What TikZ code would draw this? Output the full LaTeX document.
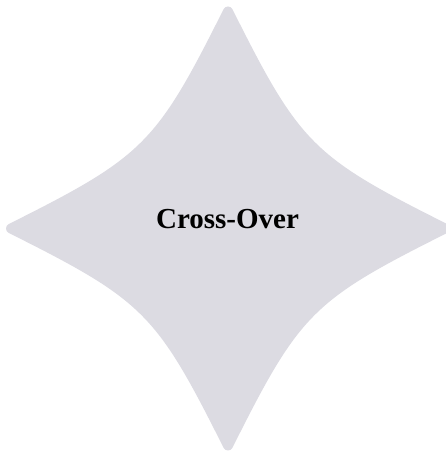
\documentclass[tikz,border=0pt]{standalone}
\usepackage{fontspec}
\setmainfont{Liberation Serif}
\definecolor{starcol}{RGB}{220,219,226}
\tikzset{
  starshape/.style={fill=starcol, draw=starcol, line width=10pt, line join=round},
  starlabel/.style={anchor=base, font=\fontsize{29}{34}\selectfont\bfseries, text=black, inner sep=0pt}
}
\begin{document}
\begin{tikzpicture}[x=1pt,y=1pt]
\useasboundingbox (0,0) rectangle (446,452);
\begin{scope}[shift={(228,223.5)}]
\path[starshape] (0,217)
  .. controls (-67.7,81.5) and (-81.5,67.7) .. (-217,0)
  .. controls (-81.5,-67.7) and (-67.7,-81.5) .. (0,-217)
  .. controls (67.7,-81.5) and (81.5,-67.7) .. (217,0)
  .. controls (81.5,67.7) and (67.7,81.5) .. cycle;
\end{scope}
\node[starlabel] (label) at (227.5,223.7) {Cross-Over};
\end{tikzpicture}
\end{document}
